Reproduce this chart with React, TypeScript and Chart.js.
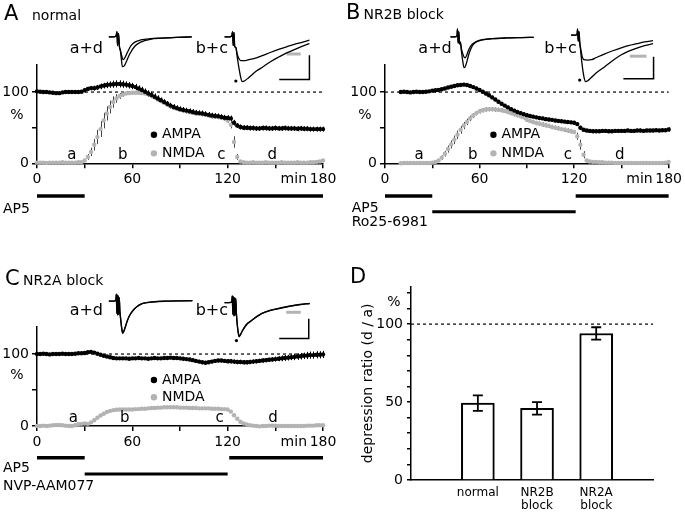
import React, { useEffect, useRef } from 'react';
import { Chart, registerables } from 'chart.js';

Chart.register(...registerables);

const FONT = '"DejaVu Sans", "Liberation Sans", sans-serif';
const GRAY = '#b3b3b3';

// ---------- time-course data (minutes, % of baseline) ----------
const TIME = [0,2,4,6,8,10,12,14,16,18,20,22,24,26,28,30,32,34,36,38,40,42,44,46,48,50,52,54,56,58,60,62,64,66,68,70,72,74,76,78,80,82,84,86,88,90,92,94,96,98,100,102,104,106,108,110,112,114,116,118,120,122,124,126,128,130,132,134,136,138,140,142,144,146,148,150,152,154,156,158,160,162,164,166,168,170,172,174,176,178,180];

const A_AMPA = [101,100.5,100,100,99.5,99,98.5,98.5,99.5,100,100,100,100,100,100.5,
  102.5,104.5,105.5,105.5,106.5,108,109,110,110.5,111,111.5,111.5,111,110.5,109.5,
  108.5,107,105,103,100.5,98,96,93.5,91,88.5,86,83.5,81,79,77.5,
  76,75,74,73,72,71,70.5,70,69,68,67,66.5,66,65,64,
  63.5,63,57,53,51,50,50,49.5,49.5,49,49,49.5,49.5,49,49,
  49.5,49,49,49.5,49,49,49,48.5,49,48.5,48.5,48,48,48,48,
  48];
const A_AMPA_ERR = [1.5,1.5,1.5,1.5,1.5,1.5,1.5,1.5,1.5,1.5,1.5,1.5,1.5,1.5,1.5,
  2.5,3,3,3.5,3.5,4,4,4.5,4.5,5,5,5,5,4.5,4.5,
  4.5,4.5,4.5,4.5,4.5,4.5,4.5,4.5,4.5,4,4,4,4,4,4,
  4,4,4,4,4,4,4,4,4,4,4,4,4,4,4,
  4,4,4,3.5,3.5,3.5,3.5,3.5,3.5,3.5,3.5,3.5,3.5,3.5,3.5,
  3.5,3.5,3.5,3.5,3.5,3.5,3.5,3.5,3.5,3.5,3.5,3.5,3.5,3.5,3.5,
  3.5];
const A_NMDA = [1,1,1,0.5,1,1,1,1,1.5,1,1,1,1,1.5,1.5,
  4,9,16,26,37,48,60,70,79,86,91,94.5,96.5,98,98.5,
  99,99,99,98.5,98,97,95,92.5,90,87.5,85,82.5,80,78,76.5,
  75,74,73,72,71,70,69.5,69,68,67,66,65.5,65,64,63,
  60,54,30,9,2.5,1.5,1,1,1.5,1,1,1,1.5,1,1,
  1,1,1.5,1,1,1,1,1.5,1,1,1,1.5,1.5,2,2.5,
  4];
const A_NMDA_ERR = [0.5,0.5,0.5,0.5,0.5,0.5,0.5,0.5,0.5,0.5,0.5,0.5,0.5,0.5,0.5,
  2,4,6,8,10,11,11,10,9,8,6,4,3,2,2,
  2,2,2,2,2,2,2,2,2,2,2,2,2,2,2,
  2,2,2,2,2,2,2,2,2,2,2,2,2,2,2,
  3,5,8,4,1,0.5,0.5,0.5,0.5,0.5,0.5,0.5,0.5,0.5,0.5,
  0.5,0.5,0.5,0.5,0.5,0.5,0.5,0.5,0.5,0.5,0.5,0.5,0.5,0.5,0.5,
  1];

const B_AMPA = [null,null,null,null,null,100,100.5,100,99.5,100,100.5,100,100,100.5,101,
  102,102.5,103,104,105,106.5,107.5,108.5,109.5,110,110.5,110,108.5,107,105,
  103,100.5,98,95.5,92.5,89.5,86.5,83.5,81,78.5,76,74,72,70.5,69,
  67.5,66.5,65.5,64.5,63.5,63,62,61.5,61,60,59.5,59,58.5,58,57.5,
  57,55,50,47,46,45.5,45,45,45,45.5,45.5,45,45,45.5,45.5,
  45.5,45.5,46,45.5,45.5,46,46,45.5,46,46,46,46.5,46,46.5,46.5,
  47.5];
const B_AMPA_ERR = [null,null,null,null,null,1.5,1.5,1.5,1.5,1.5,1.5,1.5,1.5,1.5,1.5,
  2,2,2,2,2,2,2.5,2.5,2.5,2.5,2.5,2.5,2.5,2.5,2.5,
  2.5,2.5,2.5,2.5,2.5,2.5,2.5,2.5,2.5,2.5,2.5,2.5,2.5,2.5,2.5,
  2.5,2.5,2.5,2.5,2.5,2.5,2.5,2.5,2.5,2.5,2.5,2.5,2.5,2.5,2.5,
  2.5,2.5,2.5,2.5,2.5,2.5,2.5,2.5,2.5,2.5,2.5,2.5,2.5,2.5,2.5,
  2.5,2.5,2.5,2.5,2.5,2.5,2.5,2.5,2.5,2.5,2.5,2.5,2.5,2.5,2.5,
  3];
const B_NMDA = [null,null,null,null,null,0,0.5,0.5,0.5,0.5,0.5,0.5,0.5,0.5,0.5,
  1,2,4,8,13.5,20,26.5,33,40,47,53,58,63,67,70.5,
  73,74.5,75.5,76,76,75.5,75,74.5,73.5,72,70.5,69,67.5,66,64.5,
  61,59.5,58,56.5,55.5,54.5,53.5,52.5,51,50,49,48,47,46,45,
  44,38,26,12,4,2.5,2,2,1.5,1.5,1,1,1,0.5,0.5,
  0.5,0.5,0.5,0.5,0.5,0.5,0.5,0.5,0.5,0.5,0.5,0.5,0.5,0.5,1,
  2];
const B_NMDA_ERR = [null,null,null,null,null,0.5,0.5,0.5,0.5,0.5,0.5,0.5,0.5,0.5,0.5,
  1,1.5,2,3,4,5,5.5,6,6,5.5,5,4.5,4,3.5,3,
  3,3,3,3,3,3,3,3,3,3,3,3,3,3,3,
  3,3,3,3,3,3,3,3,3,3,3,3,3,3,3,
  3,5,7,5,1.5,1,0.5,0.5,0.5,0.5,0.5,0.5,0.5,0.5,0.5,
  0.5,0.5,0.5,0.5,0.5,0.5,0.5,0.5,0.5,0.5,0.5,0.5,0.5,0.5,0.5,
  1];

const C_AMPA = [100,100,100.5,100,99.5,100,100,100,100.5,100,100,100,100.5,101,101,
  101.5,102.5,103,102,100.5,99,97.5,96.5,95.5,94.5,94,94,94,94,93.5,
  94,94,94.5,94,94,93.5,94,94.5,94,94,94.5,94.5,95,94.5,94.5,
  94,93.5,93,92.5,91.5,90.5,89.5,88.5,88,88.5,89.5,90.5,91,91,90.5,
  90,90,89.5,89,89,88.5,88.5,89,89.5,90,90.5,91,91.5,92,92.5,
  93,93.5,94,94.5,95,95.5,96,96.5,97,97.5,98,98.5,98.5,99,99,
  99.5];
const C_AMPA_ERR = [1.5,1.5,1.5,1.5,1.5,1.5,1.5,1.5,1.5,1.5,1.5,1.5,1.5,1.5,1.5,
  2,2,2,2,2,2,2,2,2,2,2,2,2,2,2,
  2,2,2,2,2,2,2,2,2,2,2,2,2,2,2,
  2.5,2.5,2.5,2.5,2.5,2.5,2.5,2.5,2.5,2.5,2.5,2.5,2.5,2.5,2.5,
  3,3,3,3,3,3,3,3,3,3,3,3,3,3,3,
  3.5,3.5,4,4,4,4,4.5,4.5,4.5,4.5,5,5,5,5,5,
  5];
const C_NMDA = [0,0,0.5,0,0.5,1,1.5,1.5,1,0.5,0,0,1,2.5,3,
  3.5,3,5,8,11.5,14.5,17,19.5,21,22,22.5,23,23,23,23,
  23,23.5,23.5,24,24,24.5,25,25,25.5,25.5,26,26,26,26,26,
  25.5,25.5,25.5,25,25,25,24.5,24.5,24.5,24.5,24,24,24,23.5,23.5,
  23,20,15,10,6,3.5,2,1,0.5,0,-0.5,0,0,0.5,0.5,
  0.5,0,0,0,0,0,0,0,0,0,0.5,0.5,0.5,1,1,
  1];
const C_NMDA_ERR = [1,1,1,1,1,1,1,1,1,1,1,1,1,1,1,
  1,1,1,1,1,1,1,1,1,1,1,1,1,1,1,
  1,1,1,1,1,1,1,1,1,1,1,1,1,1,1,
  1,1,1,1,1,1,1,1,1,1,1,1,1,1,1,
  1,1,1,1,1,1,1,1,1,1,1,1,1,1,1,
  1,1,1,1,1,1,1,1,1,1,1,1,1,1,1,
  1];

const PHASES = ['a', 'b', 'c', 'd'];
const A_PHASE_T = [22, 54, 116, 148];
const B_PHASE_T = [21.7, 55.7, 116, 149];
const C_PHASE_T = [22.8, 55.3, 115, 148.6];

const X_TICK_LABELS = [0, 60, 120, 180];

// drug application periods (min)
const AP5_PERIODS = [[0, 30], [121, 180]];
const RO_PERIODS = [[30, 121]];
const NVP_PERIODS = [[30, 120]];

// ---------- inset traces (time units, current units; baseline = 0) ----------
const A_AD_A = [[5,0],[10,0],[12.5,1],[13.5,6],[14,-10],[15,4],[16,-11],[17,-16],[18,-25],[19,-34],[21,-33],[24,-26],[27,-19],[31.7,-11],[38,-6],[48,-2.7],[60,-1.5],[75,-0.5],[91,0]];
const A_AD_D = [[5,0],[10,0],[12.5,1],[13.5,6],[14,-10],[15,4],[16,-11],[17,-15],[18,-20],[20,-26],[22,-23],[25,-16],[28,-10],[32,-6],[38,-3.5],[48,-2],[60,-1.3],[75,-0.5],[91,0]];
const A_BC_B = [[125,0],[130,0],[132.5,1],[133.3,6],[134,-10],[134.8,5],[135.5,-11],[136.7,-12],[138,-22],[140,-36],[141.7,-46],[143.3,-51],[146,-50],[150,-46.5],[158,-39],[165,-34],[173,-28],[181.7,-22.7],[190,-18],[198,-14.3],[206,-10.5],[213,-7.7]];
const A_BC_C = [[125,0],[130,0],[132.5,1],[133.3,6],[134,-10],[134.8,5],[135.5,-11],[136.7,-12],[138,-19],[140,-25],[141.7,-27],[145,-27],[150,-26],[158,-24],[165,-21],[173,-17.5],[181.7,-14],[190,-11],[198,-8.3],[206,-6],[213,-3.7]];
const A_DOT = [[136.7, -50.3]];
const A_CAL_GRAY = [[189.3, -19.5], [204, -19.5]];
const A_CAL = [[181.7, -48.7], [213, -48.7], [213, -21]];

const B_AD_A = [[6.7,0],[11,0],[13.5,1],[14,9],[14.7,-7],[15.3,6],[16,-8],[17,-6],[18,-16],[19.5,-28],[20.7,-35],[22,-34],[24,-27],[26,-19],[28.5,-12],[31,-8],[34,-5.5],[40,-3.5],[50,-2],[65,-1.2],[80,-0.8],[93,-0.5]];
const B_AD_D = [[6.7,0],[11,0],[13.5,1],[14,9],[14.7,-7],[15.3,6],[16,-8],[17,-6],[18,-13],[20,-21],[21.7,-24],[23.5,-21],[25.5,-15],[28,-10],[31,-7],[34,-5],[40,-3.2],[50,-2],[65,-1.2],[80,-0.8],[93,-0.5]];
const B_BC_B = [[131.7,2],[136,2],[138,3],[138.5,9],[139.2,-5],[140,6],[140.7,-6],[141.5,-14],[143,-30],[145,-45],[146.7,-51],[149,-50],[153,-46],[158,-41],[166.7,-34],[175,-27],[183,-21],[191,-16.5],[200,-12.7],[208,-10],[216.7,-7.7]];
const B_BC_C = [[131.7,2],[136,2],[138,3],[138.5,9],[139.2,-5],[140,6],[140.7,-6],[141.5,-12],[143,-21],[145,-26],[149,-26.5],[153,-26],[158,-23.5],[166.7,-19.3],[175,-15.8],[183,-12.7],[191,-10],[200,-7.7],[208,-5.8],[216.7,-4.3]];
const B_DOT = [[140.7, -49.3]];
const B_CAL_GRAY = [[192.7, -22], [210, -22]];
const B_CAL = [[186, -47.7], [217.3, -47.7], [217.3, -22.7]];

const C_AD_A = [[5,0],[10,0],[12.3,1],[12.8,8],[13.3,-14],[13.8,7],[14.3,-16],[14.8,6],[15.3,-15],[15.8,4],[16.5,-12],[17.2,-20],[18.2,-30],[19.3,-36.7],[20.5,-35],[22,-30],[24,-23],[26,-17.5],[28.3,-13.4],[31,-9.5],[34,-6.5],[38.3,-3.4],[44,-1.8],[51.7,-0.7],[65,0],[80,0.4],[91.7,0.6]];
const C_AD_D = [[5,0],[10,0],[12.3,1],[12.8,8],[13.3,-14],[13.8,7],[14.3,-16],[14.8,6],[15.3,-15],[15.8,4],[16.5,-12],[17.2,-19],[18.2,-29],[19.3,-35.5],[20.5,-34],[22,-29.5],[24,-23],[26,-17.5],[28.3,-13],[31,-9.5],[34,-6.5],[38.3,-3.4],[44,-1.8],[51.7,-0.8],[65,0],[80,0.3],[91.7,0.5]];
const C_BC_B = [[125,-1.7],[130,-1.7],[132.5,-1],[133,6],[133.6,-15],[134.2,5],[134.8,-17],[135.4,4],[136,-16],[136.6,3],[137.3,-14],[138,-25],[139,-35],[140,-40.7],[141.5,-38.5],[143.5,-34],[146,-29.5],[148.5,-26],[151.7,-23.4],[156,-19.5],[160,-16.5],[165,-13.4],[172,-10.8],[181.7,-8.4],[192,-6],[203,-4],[213.3,-2.7]];
const C_BC_C = [[125,-1.7],[130,-1.7],[132.5,-1],[133,6],[133.6,-15],[134.2,5],[134.8,-17],[135.4,4],[136,-16],[136.6,3],[137.3,-14],[138,-24],[139,-34],[140,-39.5],[141.5,-38],[143.5,-33.5],[146,-29],[148.5,-25.5],[151.7,-23],[156,-19.5],[160,-16.5],[165,-13.4],[172,-10.5],[181.7,-8],[192,-5.8],[203,-3.8],[213.3,-2.5]];
const C_DOT = [[137.3, -45]];
const C_CAL_GRAY = [[189, -12.7], [204, -12.7]];
const C_CAL = [[181.7, -42.7], [212.3, -42.7], [212.3, -20]];

// ---------- panel D ----------
const D_LABELS = [['normal'], ['NR2B', 'block'], ['NR2A', 'block']];
const D_POS = [1, 2, 3];
const D_VALUES = [49.3, 46, 94];
const D_ERR = [5, 4, 4];

// ---------- helpers ----------
function pts(vals) {
  const out = [];
  TIME.forEach((t, i) => { if (vals[i] !== null && vals[i] !== undefined) out.push({ x: t, y: vals[i] }); });
  return out;
}
function xy(arr) { return arr.map(([x, y]) => ({ x, y })); }

const axisGrid = { display: true, drawOnChartArea: false, drawTicks: true, tickLength: 5, color: '#000', lineWidth: 1.5 };
const axisBorder = { display: true, color: '#000', width: 1.5 };

function buildTimecourse(s) {
  const decor = {
    id: 'decor' + s.letter,
    beforeDatasetsDraw(chart) {
      const { ctx, chartArea: ca, scales: { x, y } } = chart;
      ctx.save();
      ctx.strokeStyle = '#000';
      ctx.lineWidth = 1.2;
      ctx.setLineDash([3, 3]);
      const y100 = y.getPixelForValue(100);
      ctx.beginPath(); ctx.moveTo(ca.left, y100); ctx.lineTo(ca.right, y100); ctx.stroke();
      ctx.setLineDash([]);
      const drawErr = (vals, errs, color) => {
        ctx.strokeStyle = color; ctx.lineWidth = 1;
        TIME.forEach((t, i) => {
          const v = vals[i], e = errs[i];
          if (v === null || e === null || v === undefined) return;
          const px = Math.round(x.getPixelForValue(t)) + 0.5;
          ctx.beginPath();
          ctx.moveTo(px, y.getPixelForValue(v - e));
          ctx.lineTo(px, y.getPixelForValue(v + e));
          ctx.stroke();
        });
      };
      drawErr(s.nmda, s.nmdaErr, '#444');
      drawErr(s.ampa, s.ampaErr, '#000');
      ctx.restore();
    },
    afterDraw(chart) {
      const { ctx, chartArea: ca, scales: { x, y } } = chart;
      ctx.save();
      ctx.fillStyle = '#000';
      ctx.textAlign = 'left'; ctx.textBaseline = 'alphabetic';
      ctx.font = `21px ${FONT}`; ctx.fillText(s.letter, s.letterX, s.titleY);
      ctx.font = `14px ${FONT}`; ctx.fillText(s.subtitle, s.subX, s.titleY);
      ctx.font = `16px ${FONT}`; ctx.textAlign = 'right';
      ctx.fillText('a+d', s.adX, s.insetLabelY);
      ctx.fillText('b+c', s.bcX, s.insetLabelY);
      ctx.font = `14px ${FONT}`; ctx.textAlign = 'center'; ctx.textBaseline = 'middle';
      ctx.fillText('%', ca.left - 20, y.getPixelForValue(s.percentV));
      ctx.textAlign = 'right'; ctx.textBaseline = 'top';
      ctx.fillText('min', x.getPixelForValue(180) - 16, ca.bottom + 9);
      ctx.font = `15px ${FONT}`; ctx.textAlign = 'center'; ctx.textBaseline = 'middle';
      PHASES.forEach((p, i) => ctx.fillText(p, x.getPixelForValue(s.phaseT[i]), y.getPixelForValue(s.phaseV)));
      // legend
      const lx = x.getPixelForValue(s.legT);
      [[s.legVA, '#000', 'AMPA'], [s.legVN, GRAY, 'NMDA']].forEach(([v, c, t]) => {
        const ly = y.getPixelForValue(v);
        ctx.fillStyle = c;
        ctx.beginPath(); ctx.arc(lx, ly, 3.2, 0, Math.PI * 2); ctx.fill();
        ctx.fillStyle = '#000'; ctx.textAlign = 'left'; ctx.font = `14px ${FONT}`;
        ctx.fillText(t, lx + 8, ly);
      });
      // drug bars
      ctx.strokeStyle = '#000';
      s.drugs.forEach((d) => {
        ctx.lineWidth = d.lw;
        d.periods.forEach(([a, b]) => {
          ctx.beginPath();
          ctx.moveTo(x.getPixelForValue(a), d.y);
          ctx.lineTo(x.getPixelForValue(b), d.y);
          ctx.stroke();
        });
      });
      ctx.fillStyle = '#000'; ctx.font = `14px ${FONT}`; ctx.textAlign = 'left'; ctx.textBaseline = 'alphabetic';
      s.drugs.forEach((d) => ctx.fillText(d.label, s.drugLabelX, d.labelY));
      ctx.restore();
    },
  };
  return {
    type: 'scatter',
    data: {
      datasets: [
        { label: 'AMPA', data: pts(s.ampa), pointRadius: 2.2, pointBackgroundColor: '#000', pointBorderWidth: 0, clip: false, showLine: false },
        { label: 'NMDA', data: pts(s.nmda), pointRadius: 2.2, pointBackgroundColor: GRAY, pointBorderWidth: 0, clip: false, showLine: false },
      ],
    },
    options: {
      animation: false, responsive: false, devicePixelRatio: 1, events: [],
      layout: { padding: { left: 0, top: s.area.top, right: s.w - s.area.right, bottom: s.h - s.area.bottom - 25 } },
      plugins: { legend: { display: false }, tooltip: { enabled: false } },
      scales: {
        x: {
          type: 'linear', min: 0, max: 180,
          afterFit: (sc) => { sc.height = 25; },
          ticks: { stepSize: 30, autoSkip: false, maxRotation: 0, includeBounds: false, color: '#000', font: { family: FONT, size: 14 }, padding: 3,
            callback: (v) => (X_TICK_LABELS.includes(v) ? String(v) : '') },
          grid: axisGrid, border: axisBorder,
        },
        y: {
          type: 'linear', min: 0, max: 138,
          afterFit: (sc) => { sc.width = s.area.left; },
          ticks: { stepSize: 50, autoSkip: false, includeBounds: false, color: '#000', font: { family: FONT, size: 14 }, padding: 3,
            callback: (v) => (v === 50 ? '' : String(v)) },
          grid: axisGrid, border: axisBorder,
        },
      },
    },
    plugins: [decor],
  };
}

function buildInset(traces, gray, cal, dots, w, yMin, yMax) {
  const datasets = traces.map((tr) => ({ data: xy(tr), showLine: true, borderColor: '#000', borderWidth: 1.3, pointRadius: 0, cubicInterpolationMode: 'monotone', clip: false }));
  datasets.push({ data: xy(gray), showLine: true, borderColor: GRAY, borderWidth: 3, pointRadius: 0, clip: false });
  datasets.push({ data: xy(cal), showLine: true, borderColor: '#000', borderWidth: 1.5, pointRadius: 0, clip: false });
  datasets.push({ data: xy(dots), showLine: false, pointRadius: 1.6, pointBackgroundColor: '#000', pointBorderWidth: 0, clip: false });
  return {
    type: 'scatter',
    data: { datasets },
    options: {
      animation: false, responsive: false, devicePixelRatio: 1, events: [],
      layout: { padding: 0 },
      plugins: { legend: { display: false }, tooltip: { enabled: false } },
      scales: { x: { display: false, type: 'linear', min: 0, max: w }, y: { display: false, type: 'linear', min: yMin, max: yMax } },
    },
  };
}

function buildD() {
  const decor = {
    id: 'decorD',
    beforeDatasetsDraw(chart) {
      const { ctx, chartArea: ca, scales: { y } } = chart;
      ctx.save();
      ctx.strokeStyle = '#000'; ctx.lineWidth = 1.2; ctx.setLineDash([3, 3]);
      const y100 = y.getPixelForValue(100);
      ctx.beginPath(); ctx.moveTo(ca.left, y100); ctx.lineTo(ca.right, y100); ctx.stroke();
      ctx.restore();
    },
    afterDatasetsDraw(chart) {
      const { ctx, scales: { y } } = chart;
      const meta = chart.getDatasetMeta(0);
      ctx.save();
      ctx.strokeStyle = '#000'; ctx.lineWidth = 1.8;
      meta.data.forEach((el, i) => {
        const px = el.x;
        const t = y.getPixelForValue(D_VALUES[i] + D_ERR[i]);
        const b = y.getPixelForValue(D_VALUES[i] - D_ERR[i]);
        ctx.beginPath();
        ctx.moveTo(px, t); ctx.lineTo(px, b);
        ctx.moveTo(px - 5, t); ctx.lineTo(px + 5, t);
        ctx.moveTo(px - 5, b); ctx.lineTo(px + 5, b);
        ctx.stroke();
      });
      ctx.restore();
    },
    afterDraw(chart) {
      const { ctx, chartArea: ca, scales: { y } } = chart;
      ctx.save();
      ctx.fillStyle = '#000';
      ctx.font = `21px ${FONT}`; ctx.textAlign = 'left'; ctx.textBaseline = 'alphabetic';
      ctx.fillText('D', 10, 28);
      ctx.font = `14px ${FONT}`; ctx.textAlign = 'center'; ctx.textBaseline = 'middle';
      ctx.fillText('%', ca.left - 17, y.getPixelForValue(114));
      ctx.restore();
    },
  };
  return {
    type: 'bar',
    data: {
      datasets: [{ data: D_POS.map((p, i) => ({ x: p, y: D_VALUES[i] })), backgroundColor: '#fff', borderColor: '#000', borderWidth: 2, barThickness: 33 }],
    },
    options: {
      animation: false, responsive: false, devicePixelRatio: 1, events: [],
      layout: { padding: { left: 17, right: 32, top: 31.7, bottom: 4 } },
      plugins: { legend: { display: false }, tooltip: { enabled: false } },
      scales: {
        x: {
          type: 'linear', min: -0.13, max: 3.96, offset: false,
          afterFit: (sc) => { sc.height = 30; },
          grid: { display: false, drawTicks: false, offset: false }, border: axisBorder,
          ticks: { stepSize: 1, includeBounds: false, autoSkip: false, maxRotation: 0, padding: 6, color: '#000', font: { family: FONT, size: 12, lineHeight: 1.1 },
            callback: (v) => (D_LABELS[v - 1] ? D_LABELS[v - 1] : '') },
        },
        y: {
          type: 'linear', min: 0, max: 124,
          afterFit: (sc) => { sc.width = 54; },
          ticks: { stepSize: 10, autoSkip: false, includeBounds: false, padding: 4, color: '#000', font: { family: FONT, size: 14 },
            callback: (v) => (v % 50 === 0 ? String(v) : '') },
          grid: { ...axisGrid, tickLength: 4 }, border: axisBorder,
          title: { display: true, text: 'depression ratio (d / a)', color: '#000', font: { family: FONT, size: 14 }, padding: { top: 3, bottom: 0 } },
        },
      },
    },
    plugins: [decor],
  };
}

// ---------- panel specs ----------
const SPEC_A = {
  letter: 'A', subtitle: 'normal', letterX: 4, subX: 32, titleY: 20,
  ampa: A_AMPA, ampaErr: A_AMPA_ERR, nmda: A_NMDA, nmdaErr: A_NMDA_ERR,
  w: 340, h: 255, area: { left: 37, right: 323, top: 65, bottom: 163.3 },
  adX: 103, bcX: 228, insetLabelY: 53, percentV: 68,
  phaseT: A_PHASE_T, phaseV: 12, legT: 73.6, legVA: 40, legVN: 14,
  drugLabelX: 3,
  drugs: [{ label: 'AP5', periods: AP5_PERIODS, y: 196, lw: 3.5, labelY: 213 }],
};
const SPEC_B = {
  letter: 'B', subtitle: 'NR2B block', letterX: 6, subX: 23.5, titleY: 19,
  ampa: B_AMPA, ampaErr: B_AMPA_ERR, nmda: B_NMDA, nmdaErr: B_NMDA_ERR,
  w: 345, h: 255, area: { left: 45, right: 330, top: 65, bottom: 163.3 },
  adX: 111.7, bcX: 236.7, insetLabelY: 53, percentV: 68,
  phaseT: B_PHASE_T, phaseV: 12, legT: 68.8, legVA: 40, legVN: 14,
  drugLabelX: 11.7,
  drugs: [
    { label: 'AP5', periods: AP5_PERIODS, y: 196, lw: 3.5, labelY: 212 },
    { label: 'Ro25-6981', periods: RO_PERIODS, y: 211.7, lw: 3, labelY: 226 },
  ],
};
const SPEC_C = {
  letter: 'C', subtitle: 'NR2A block', letterX: 5, subX: 23, titleY: 30,
  ampa: C_AMPA, ampaErr: C_AMPA_ERR, nmda: C_NMDA, nmdaErr: C_NMDA_ERR,
  w: 340, h: 259, area: { left: 37, right: 323, top: 71.7, bottom: 171 },
  adX: 103, bcX: 228, insetLabelY: 60, percentV: 70,
  phaseT: C_PHASE_T, phaseV: 10.7, legT: 73.6, legVA: 64, legVN: 40,
  drugLabelX: 3,
  drugs: [
    { label: 'AP5', periods: AP5_PERIODS, y: 202.7, lw: 3.5, labelY: 216.7 },
    { label: 'NVP-AAM077', periods: NVP_PERIODS, y: 219, lw: 3, labelY: 235 },
  ],
};

function ChartCanvas({ build, left, top, width, height }) {
  const ref = useRef(null);
  useEffect(() => {
    const chart = new Chart(ref.current, build());
    return () => chart.destroy();
  }, []);
  return <canvas ref={ref} width={width} height={height} style={{ position: 'absolute', left, top, width, height }} />;
}

export default function App() {
  return (
    <div style={{ position: 'absolute', left: 0, top: 0, width: 685, height: 514, background: '#fff', overflow: 'hidden' }}>
      <ChartCanvas build={() => buildTimecourse(SPEC_A)} left={0} top={0} width={340} height={255} />
      <ChartCanvas build={() => buildTimecourse(SPEC_B)} left={340} top={0} width={345} height={255} />
      <ChartCanvas build={() => buildTimecourse(SPEC_C)} left={0} top={255} width={340} height={259} />
      <ChartCanvas build={buildD} left={340} top={255} width={345} height={259} />
      <ChartCanvas build={() => buildInset([A_AD_A, A_AD_D, A_BC_B, A_BC_C], A_CAL_GRAY, A_CAL, A_DOT, 225, -56, 9)} left={100} top={25} width={225} height={65} />
      <ChartCanvas build={() => buildInset([B_AD_A, B_AD_D, B_BC_B, B_BC_C], B_CAL_GRAY, B_CAL, B_DOT, 225, -56, 9)} left={440} top={25} width={225} height={65} />
      <ChartCanvas build={() => buildInset([C_AD_A, C_AD_D, C_BC_B, C_BC_C], C_CAL_GRAY, C_CAL, C_DOT, 225, -55.7, 9.3)} left={100} top={289} width={225} height={65} />
    </div>
  );
}
